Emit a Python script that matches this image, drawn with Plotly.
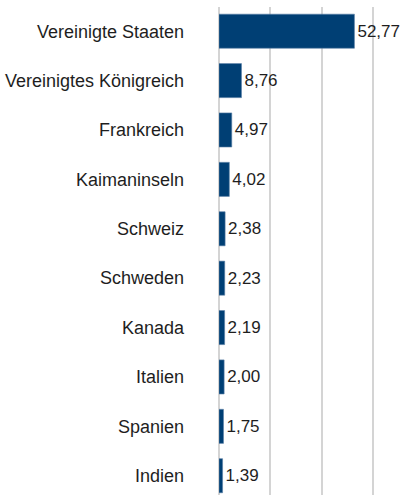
import plotly.graph_objects as go

categories = ["Vereinigte Staaten", "Vereinigtes Königreich", "Frankreich", "Kaimaninseln",
              "Schweiz", "Schweden", "Kanada", "Italien", "Spanien", "Indien"]
values = [52.77, 8.76, 4.97, 4.02, 2.38, 2.23, 2.19, 2.00, 1.75, 1.39]
value_labels = [f"{v:.2f}".replace(".", ",") for v in values]
x_ticks = [0, 20, 40, 60]

fig = go.Figure(go.Bar(
    x=values, y=categories, orientation="h",
    marker=dict(color="#003f74", line=dict(color="#5a7fa6", width=0.6)),
    text=value_labels, textposition="outside", cliponaxis=False,
    textfont=dict(family="Liberation Sans, Arial, sans-serif", size=17, color="#1e1e1e"),
    width=0.69,
))

fig.update_layout(
    width=403, height=495,
    margin=dict(l=219, r=0, t=7, b=0),
    paper_bgcolor="white", plot_bgcolor="white",
    showlegend=False,
    font=dict(family="Liberation Sans, Arial, sans-serif", size=17, color="#1e1e1e"),
    xaxis=dict(range=[0, 71.7], tickvals=x_ticks, showticklabels=False,
               showgrid=True, gridcolor="#d4d4d4", gridwidth=1.5,
               zeroline=True, zerolinecolor="#d4d4d4", zerolinewidth=1.5,
               showline=False, fixedrange=True),
    yaxis=dict(type="category", categoryorder="array", categoryarray=categories,
               range=[9.39, -0.49], showgrid=False, zeroline=False, showline=False,
               ticks="", ticklabelstandoff=34, automargin=False, fixedrange=True,
               tickfont=dict(size=18, color="#1e1e1e")),
)

fig.write_html("out.html", config={"displayModeBar": False},
               post_script="document.body.style.margin='0';")
